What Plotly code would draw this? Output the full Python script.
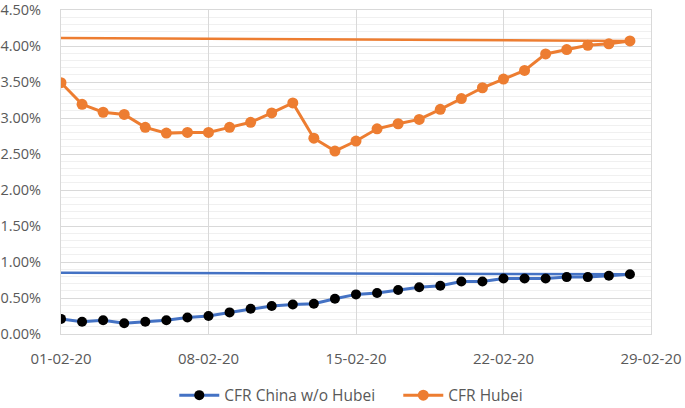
import plotly.graph_objects as go
import pandas as pd

dates = pd.date_range("2020-02-01", "2020-02-28", freq="D")

cfr_china_wo_hubei = [0.21, 0.17, 0.19, 0.15, 0.17, 0.19, 0.23, 0.25, 0.30, 0.35,
                      0.39, 0.41, 0.42, 0.49, 0.55, 0.57, 0.61, 0.65, 0.67, 0.73,
                      0.73, 0.77, 0.77, 0.77, 0.79, 0.79, 0.81, 0.83]
cfr_hubei = [3.49, 3.19, 3.08, 3.05, 2.87, 2.79, 2.80, 2.80, 2.87, 2.94,
             3.07, 3.21, 2.72, 2.54, 2.68, 2.85, 2.92, 2.98, 3.12, 3.27,
             3.42, 3.54, 3.66, 3.89, 3.95, 4.01, 4.03, 4.07]

ref_dates = ["2020-02-01", "2020-02-28"]
ref_china = [0.85, 0.83]
ref_hubei = [4.11, 4.07]

tick_dates = ["2020-02-01", "2020-02-08", "2020-02-15", "2020-02-22", "2020-02-29"]
tick_labels = ["01-02-20", "08-02-20", "15-02-20", "22-02-20", "29-02-20"]

BLUE = "#4472C4"
ORANGE = "#ED7D31"
GRID = "#d9d9d9"
TXT = "#595959"
FONT = "Open Sans"

fig = go.Figure()
fig.add_trace(go.Scatter(x=ref_dates, y=[v / 100 for v in ref_china], mode="lines",
                         line=dict(color=BLUE, width=2.5), showlegend=False, hoverinfo="skip"))
fig.add_trace(go.Scatter(x=ref_dates, y=[v / 100 for v in ref_hubei], mode="lines",
                         line=dict(color=ORANGE, width=2.5), showlegend=False, hoverinfo="skip"))
fig.add_trace(go.Scatter(x=dates, y=[v / 100 for v in cfr_china_wo_hubei], mode="lines+markers",
                         name="CFR China w/o Hubei",
                         line=dict(color=BLUE, width=3),
                         marker=dict(color="black", size=10)))
fig.add_trace(go.Scatter(x=dates, y=[v / 100 for v in cfr_hubei], mode="lines+markers",
                         name="CFR Hubei",
                         line=dict(color=ORANGE, width=3),
                         marker=dict(color=ORANGE, size=11)))

fig.update_layout(
    width=685, height=408,
    margin=dict(l=61, r=34, t=10, b=74, autoexpand=False),
    paper_bgcolor="white", plot_bgcolor="white",
    font=dict(family=FONT, size=15, color=TXT),
    showlegend=True,
    legend=dict(orientation="h", x=0.192, xanchor="left", y=-0.19, yanchor="middle",
                font=dict(family=FONT, size=15.5, color=TXT), itemwidth=40,
                entrywidth=169, entrywidthmode="pixels",
                traceorder="normal", bgcolor="rgba(0,0,0,0)"),
    xaxis=dict(
        range=["2020-02-01", "2020-02-29"],
        tickvals=tick_dates, ticktext=tick_labels,
        showgrid=True, gridcolor=GRID, gridwidth=1,
        showline=True, linecolor=GRID, linewidth=1, mirror=True,
        ticks="", ticklabelstandoff=11, zeroline=False,
        ticklabeloverflow="allow",
    ),
    yaxis=dict(
        range=[0, 0.0450001], tickvals=[i * 0.005 for i in range(10)], tickformat=".2%",
        showgrid=True, gridcolor=GRID, gridwidth=1,
        minor=dict(tickvals=[i * 0.001 for i in range(46)], showgrid=True,
                   gridcolor="#f0f0f0", gridwidth=1),
        showline=True, linecolor=GRID, linewidth=1, mirror=True,
        ticks="", ticklabelstandoff=16, zeroline=False,
        ticklabeloverflow="allow", tickfont=dict(size=14.5),
    ),
)

fig.write_html("out.html", config={"displayModeBar": False},
               post_script="document.body.style.margin='0';")
